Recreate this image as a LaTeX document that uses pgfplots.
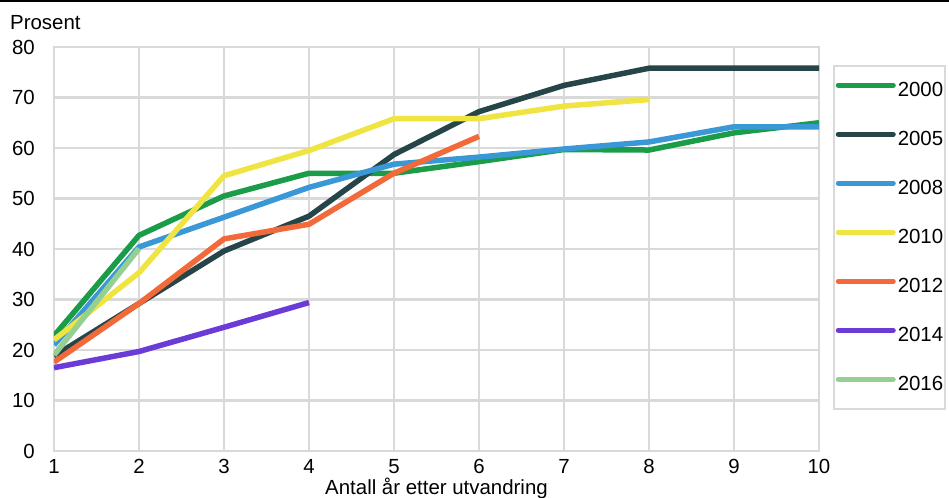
\documentclass[border=0pt]{standalone}
\usepackage{pgfplots}
\pgfplotsset{compat=1.18}
\usepackage{fontspec}
\setmainfont{Liberation Sans}
\definecolor{cA}{HTML}{1A9C48}
\definecolor{cB}{HTML}{264548}
\definecolor{cC}{HTML}{3A98D6}
\definecolor{cD}{HTML}{F0E442}
\definecolor{cE}{HTML}{F26A3A}
\definecolor{cF}{HTML}{6A3BD6}
\definecolor{cG}{HTML}{95D092}
\definecolor{gridc}{HTML}{D9D9D9}
\begin{document}
\begin{tikzpicture}
\path[use as bounding box] (-54bp,-47bp) rectangle (895bp,451bp);
\begin{axis}[
  at={(0,0)}, anchor=south west,
  scale only axis, width=765bp, height=404bp,
  xmin=1, xmax=10, ymin=0, ymax=80,
  xtick={1,...,10}, ytick={0,10,...,80},
  major tick length=0pt,
  grid=major,
  grid style={draw=gridc, line width=2.5bp},
  axis line style={draw=gridc, line width=2.5bp},
  /pgf/number format/assume math mode=true,
  tick label style={font=\fontsize{20.5}{24}\selectfont},
  xticklabel style={anchor=base, inner sep=0pt, yshift=-22bp},
  yticklabel style={anchor=east, inner sep=0pt, xshift=-19bp},
  xlabel={Antall år etter utvandring},
  xlabel style={at={(rel axis cs:0.5,0)}, anchor=base, inner sep=0pt, yshift=-43bp, font=\fontsize{20.5}{24}\selectfont},
  legend style={at={(rel axis cs:1.018,0.955)}, anchor=north west,
    draw=gridc, line width=2bp, inner xsep=2bp, inner ysep=15bp,
    font=\fontsize{20.5}{24}\selectfont,
    nodes={inner sep=0pt, text height=15bp, text depth=4bp},
    row sep=30bp, column sep=2bp},
  legend cell align=left,
  legend image code/.code={\draw[#1, line width=5bp, line cap=round] (6bp,5.5bp) -- (61bp,5.5bp);},
  every axis plot/.append style={line width=5.5bp, line join=round},
]
\addplot[cA] coordinates {(1,22.8)(2,42.7)(3,50.5)(4,55)(5,55)(6,57.3)(7,59.7)(8,59.6)(9,63)(10,65)};
\addlegendentry{2000}
\addplot[cB] coordinates {(1,18.8)(2,29.2)(3,39.6)(4,46.5)(5,58.7)(6,67.2)(7,72.4)(8,75.8)(9,75.8)(10,75.8)};
\addlegendentry{2005}
\addplot[cC] coordinates {(1,21)(2,40.4)(3,46.3)(4,52.2)(5,56.8)(6,58.2)(7,59.8)(8,61.2)(9,64.2)(10,64.2)};
\addlegendentry{2008}
\addplot[cD] coordinates {(1,22)(2,35.3)(3,54.5)(4,59.5)(5,65.8)(6,65.8)(7,68.3)(8,69.6)};
\addlegendentry{2010}
\addplot[cE] coordinates {(1,17.6)(2,29.2)(3,42)(4,44.9)(5,55)(6,62.3)};
\addlegendentry{2012}
\addplot[cF] coordinates {(1,16.5)(2,19.7)(3,24.5)(4,29.4)};
\addlegendentry{2014}
\addplot[cG] coordinates {(1,19)(2,40.1)};
\addlegendentry{2016}
\end{axis}
\node[anchor=base west, font=\fontsize{20.5}{24}\selectfont, inner sep=0pt] at (-44bp,421bp) {Prosent};
\draw[black, line width=2bp] (-54bp,450bp) -- (895bp,450bp);
\end{tikzpicture}
\end{document}
